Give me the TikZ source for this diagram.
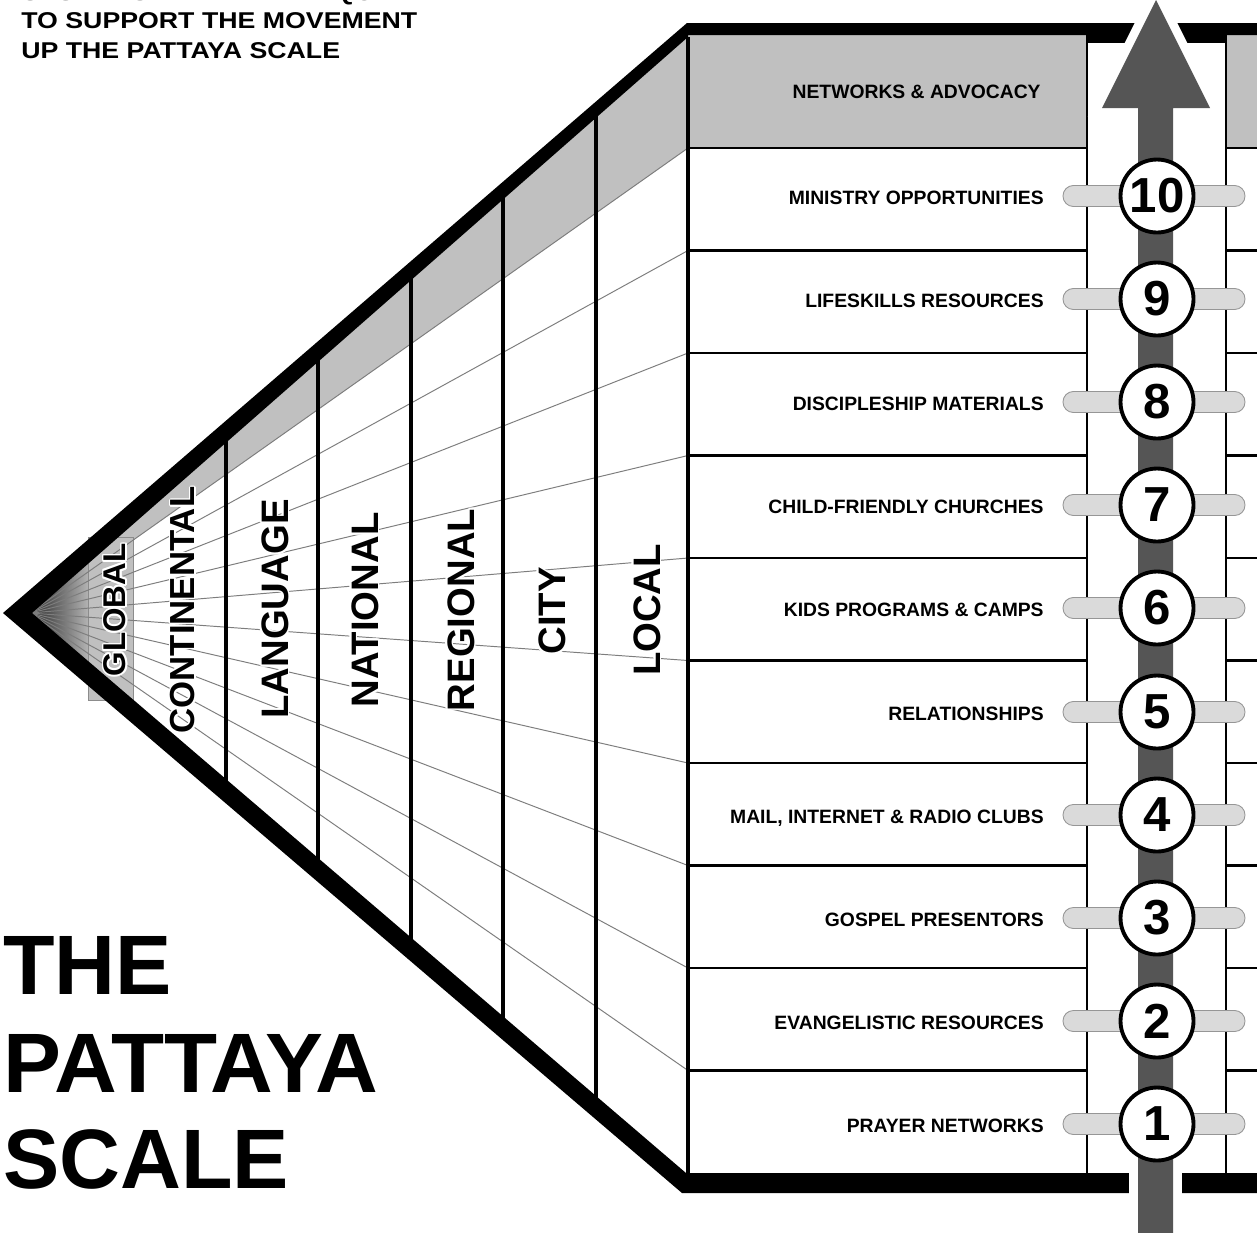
\documentclass[tikz,border=0pt]{standalone}
\usepackage{fontspec}
\setmainfont{Liberation Sans}
\usetikzlibrary{calc}
\definecolor{bandgray}{RGB}{192,192,192}
\definecolor{pillgray}{RGB}{218,218,218}
\definecolor{pilledge}{RGB}{150,150,150}
\definecolor{arrowgray}{RGB}{85,85,85}
\definecolor{fangray}{RGB}{125,125,125}
\newcommand{\HaloLabel}[5]{%
  \foreach \a in {0,30,...,330}{\node[rotate=90, inner sep=0pt, text=white, font=\fontsize{#4}{#4}\selectfont\bfseries] at ([shift={(\a:1.8)}]#2,#3) {#5};}
  \node[rotate=90, inner sep=0pt, font=\fontsize{#4}{#4}\selectfont\bfseries] (#1) at (#2,#3) {#5};}
\begin{document}
\begin{tikzpicture}[x=0.02cm, y=-0.02cm,
  fan/.style={draw=fangray, line width=0.55pt},
  colline/.style={line width=2.5pt, draw=black},
  rowline/.style={line width=1.3pt, draw=black},
  stripline/.style={line width=1.1pt, draw=black},
  rowlabel/.style={anchor=base east, inner sep=0pt, font=\fontsize{11pt}{13pt}\selectfont\bfseries},
  toptext/.style={anchor=base west, inner sep=0pt, font=\fontsize{13pt}{15pt}\selectfont\bfseries},
  titletext/.style={anchor=base west, inner sep=0pt, font=\fontsize{48pt}{55pt}\selectfont\bfseries},
  pill/.style={fill=pillgray, draw=pilledge, line width=0.5pt, rounded corners=5.9pt},
  numcircle/.style={circle, draw=black, line width=2.2pt, fill=white, minimum size=1.46cm, inner sep=0pt, font=\fontsize{28pt}{28pt}\selectfont\bfseries}
]
\useasboundingbox (0,0) rectangle (1257,1235);
\fill[white] (0,0) rectangle (1257,1235);

% focal point of the fan
\coordinate (F) at (30,613);

% gray band along the top edge
\fill[bandgray] (F) -- (688,37) -- (688,148) -- cycle;

% dark shading near apex
\shade[left color=black!85, right color=black!30] (F) -- (88,562) -- (88,663) -- cycle;

% GLOBAL box
\fill[bandgray] (88,537) rectangle (133,700);
\draw[draw=black!45, line width=0.5pt] (88,537) rectangle (133,700);

% fan lines
\foreach \k in {0,...,9}{
  \draw[fan] (F) -- (688,{148+102.5*\k});
}

% column lines
\foreach \xx/\yt/\yb in {226/442.7/779.1, 318/361.9/857.8, 411/280.2/937.4, 503/199.5/1016.2, 596/117.8/1095.8, 688/37/1173}{
  \draw[colline] (\xx,\yt-6) -- (\xx,\yb+6);
}

% right part: header box and strips
\fill[bandgray] (688,35) rectangle (1087,148);
\fill[bandgray] (1226,35) rectangle (1260,148);
\draw[rowline] (688,148) -- (1087,148);
\draw[rowline] (1226,148) -- (1260,148);
\foreach \k in {1,...,9}{
  \draw[rowline] (688,{148+102.5*\k}) -- (1087,{148+102.5*\k});
  \draw[rowline] (1226,{148+102.5*\k}) -- (1260,{148+102.5*\k});
}
\draw[stripline] (1087,35) -- (1087,1175);
\draw[stripline] (1226,35) -- (1226,1175);
\draw[colline] (688,37) -- (688,1175);

% black border
\fill[black] (3,613) -- (687,23) -- (1260,23) -- (1260,35) -- (688,35) -- (688,37) -- (32,613) -- cycle;
\fill[black] (1087,35) rectangle (1226,43);
\fill[black] (3,613) -- (682,1193) -- (1260,1193) -- (1260,1173) -- (686,1173) -- (32,613) -- cycle;

% column labels
\HaloLabel{lglobal}{115}{610}{17.9pt}{GLOBAL}
\HaloLabel{lcont}{183}{610}{19.8pt}{CONTINENTAL}
\HaloLabel{llang}{275}{609}{21.8pt}{LANGUAGE}
\HaloLabel{lnat}{365}{610}{21.8pt}{NATIONAL}
\HaloLabel{lreg}{461}{610}{21.8pt}{REGIONAL}
\HaloLabel{lcity}{552}{611}{21.8pt}{CITY}
\HaloLabel{llocal}{647}{610}{21.8pt}{LOCAL}

% header and row labels
\node[rowlabel] (hdr) at (1041,98) {NETWORKS \& ADVOCACY};
\foreach \n/\yy/\t in {10/197/{MINISTRY OPPORTUNITIES}, 9/300/{LIFESKILLS RESOURCES}, 8/403/{DISCIPLESHIP MATERIALS}, 7/506/{CHILD-FRIENDLY CHURCHES}, 6/609/{KIDS PROGRAMS \& CAMPS}, 5/713/{RELATIONSHIPS}, 4/816/{MAIL, INTERNET \& RADIO CLUBS}, 3/919/{GOSPEL PRESENTORS}, 2/1022/{EVANGELISTIC RESOURCES}, 1/1125/{PRAYER NETWORKS}}{
  \node[rowlabel] (r\n) at (1044,\yy+7) {\t};
}

% arrow with white halo
\filldraw[fill=arrowgray, draw=white, line width=10pt, line join=miter]
  (1138,1240) -- (1138,108) -- (1102,108) -- (1156,0) -- (1210,108) -- (1173,108) -- (1173,1240) -- cycle;
\fill[arrowgray] (1138,1240) -- (1138,108) -- (1102,108) -- (1156,0) -- (1210,108) -- (1173,108) -- (1173,1240) -- cycle;
\fill[white] (1120,1233) rectangle (1190,1240);

% pills and numbered circles
\foreach \n/\yy in {10/196, 9/299, 8/402, 7/505, 6/608, 5/712, 4/815, 3/918, 2/1021, 1/1124}{
  \draw[pill] (1063,\yy-10.5) rectangle (1245,\yy+10.5);
  \node[numcircle] (c\n) at (1157,\yy) {\n};
}

% texts top left
\node[toptext] (tt0) at (21,0) {\scalebox{1.17}[1]{SYSTEMS THAT ARE REQUIRED}};
\node[toptext] (tt1) at (21,28) {\scalebox{1.17}[1]{TO SUPPORT THE MOVEMENT}};
\node[toptext] (tt2) at (21,58) {\scalebox{1.17}[1]{UP THE PATTAYA SCALE}};

% title
\node[titletext] (t1) at (3,994) {THE};
\node[titletext] (t2) at (3,1092) {\scalebox{1.03}[1]{PATTAYA}};
\node[titletext] (t3) at (3,1188) {SCALE};
\end{tikzpicture}
\end{document}
